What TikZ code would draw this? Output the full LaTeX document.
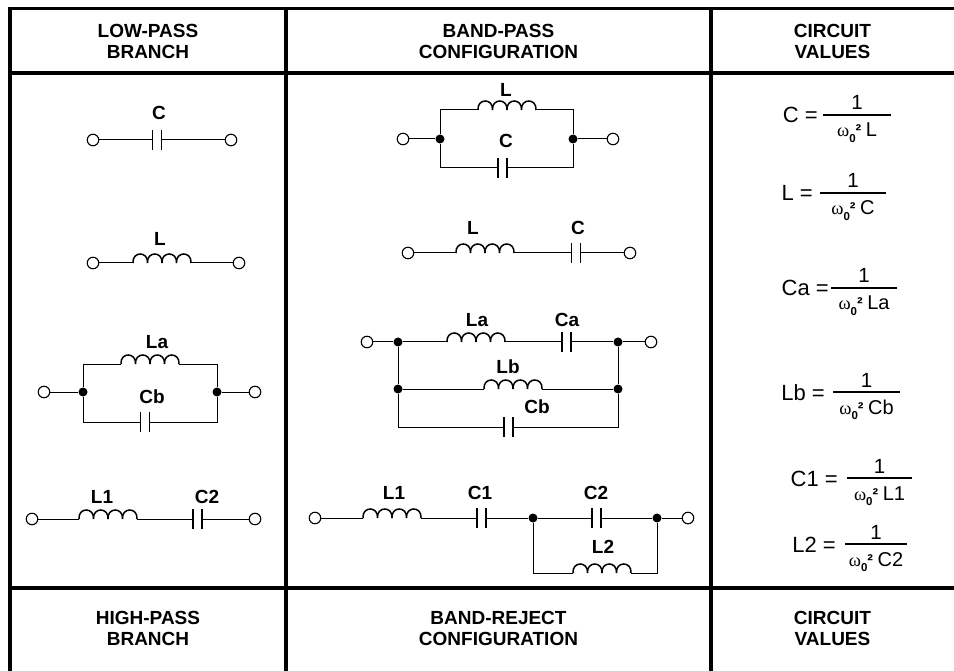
\documentclass[tikz,border=0pt]{standalone}
\usepackage{fontspec}
\setmainfont{Liberation Sans}
\newfontfamily\omegafont{Liberation Serif}
\newcommand\omz{{\omegafont\fontsize{18.5}{18}\selectfont ω}\raisebox{-5.5pt}{\fontsize{11.5}{10}\selectfont\bfseries 0}{\fontsize{17}{16}\selectfont\bfseries ²}\hspace{4.5pt}}
\begin{document}
\begin{tikzpicture}[x=1pt,y=-1pt,
  grid/.style={line width=3.4pt},
  wire/.style={line width=1pt},
  coilline/.style={line width=1.5pt},
  plate/.style={line width=1.5pt},
  term/.style={circle,draw,line width=1.1pt,fill=white,inner sep=0pt,minimum size=11.5pt},
  jdot/.style={circle,fill,inner sep=0pt,minimum size=9pt},
  lbl/.style={font=\fontsize{19}{21}\selectfont\bfseries,inner sep=0pt},
  head/.style={font=\fontsize{19}{21}\selectfont\bfseries,align=center,inner sep=0pt},
  lhs/.style={font=\fontsize{22}{22}\selectfont,anchor=base east,inner sep=0pt},
  num/.style={font=\fontsize{20.5}{20}\selectfont,anchor=base,inner sep=0pt},
  den/.style={font=\fontsize{20}{20}\selectfont,anchor=base,inner sep=0pt},
  fbar/.style={line width=2.7pt},
  pics/coil/.style={code={
    \coordinate (-a) at (0,0); \coordinate (-b) at (58,0);
    \draw[coilline] (0,0) .. controls (-1,-12) and (15.5,-12) .. (14.5,0)
       .. controls (13.5,-12) and (30,-12) .. (29,0)
       .. controls (28,-12) and (44.5,-12) .. (43.5,0)
       .. controls (42.5,-12) and (59,-12) .. (58,0);}},
  pics/cap/.style={code={
    \coordinate (-a) at (-4.5,0); \coordinate (-b) at (4.5,0);
    \draw[plate] (-4.5,-10) -- (-4.5,10) (4.5,-10) -- (4.5,10);}}
]
\useasboundingbox (0,0) rectangle (954,671);
% table
\draw[grid] (954,8.5) -- (10,8.5) -- (10,671);
\draw[grid] (10,73) -- (954,73);
\draw[grid] (10,588) -- (954,588);
\draw[grid] (286,8.5) -- (286,671);
\draw[grid] (711,8.5) -- (711,671);
% headers
\node[head] (h1) at (148,41) {LOW-PASS\\BRANCH};
\node[head] (h2) at (498.5,41) {BAND-PASS\\CONFIGURATION};
\node[head] (h3) at (832.5,41) {CIRCUIT\\VALUES};
\node[head] (f1) at (148,628) {HIGH-PASS\\BRANCH};
\node[head] (f2) at (498.5,628) {BAND-REJECT\\CONFIGURATION};
\node[head] (f3) at (832.5,628) {CIRCUIT\\VALUES};

% ---- column 1, row 1: C
\node[term] (a1l) at (93,140) {};
\node[term] (a1r) at (231,140) {};
\pic (a1C) at (157,140) {cap};
\draw[wire] (a1l) -- (a1C-a) (a1C-b) -- (a1r);
\node[lbl] (a1Ct) at (159,113) {C};

% ---- column 1, row 2: L
\node[term] (a2l) at (93,263) {};
\node[term] (a2r) at (239,263) {};
\pic (a2L) at (133,263) {coil};
\draw[wire] (a2l) -- (a2L-a) (a2L-b) -- (a2r);
\node[lbl] (a2Lt) at (160,239) {L};

% ---- column 1, row 3: La || Cb
\node[term] (a3l) at (44,392) {};
\node[term] (a3r) at (255,392) {};
\node[jdot] (a3j1) at (83,392) {};
\node[jdot] (a3j2) at (217,392) {};
\pic (a3L) at (121,364) {coil};
\pic (a3C) at (145,422) {cap};
\draw[wire] (a3l) -- (a3j1) (a3j2) -- (a3r)
  (a3j1) |- (a3L-a) (a3L-b) -| (a3j2)
  (a3j1) |- (a3C-a) (a3C-b) -| (a3j2);
\node[lbl] (a3Lt) at (157,342) {La};
\node[lbl] (a3Ct) at (152,397) {Cb};

% ---- column 1, row 4: L1 - C2
\node[term] (a4l) at (32,519) {};
\node[term] (a4r) at (255,519) {};
\pic (a4L) at (79,519) {coil};
\pic (a4C) at (197.5,519) {cap};
\draw[wire] (a4l) -- (a4L-a) (a4L-b) -- (a4C-a) (a4C-b) -- (a4r);
\node[lbl] (a4Lt) at (102,497) {L1};
\node[lbl] (a4Ct) at (207,497) {C2};

% ---- column 2, row 1: L || C
\node[term] (b1l) at (403,139) {};
\node[term] (b1r) at (613,139) {};
\node[jdot] (b1j1) at (440,139) {};
\node[jdot] (b1j2) at (573,139) {};
\pic (b1L) at (478,110) {coil};
\pic (b1C) at (502.5,168) {cap};
\draw[wire] (b1l) -- (b1j1) (b1j2) -- (b1r)
  (b1j1) |- (b1L-a) (b1L-b) -| (b1j2)
  (b1j1) |- (b1C-a) (b1C-b) -| (b1j2);
\node[lbl] (b1Lt) at (506,90) {L};
\node[lbl] (b1Ct) at (506,141) {C};

% ---- column 2, row 2: L - C
\node[term] (b2l) at (408,253) {};
\node[term] (b2r) at (630,253) {};
\pic (b2L) at (456,253) {coil};
\pic (b2C) at (576,253) {cap};
\draw[wire] (b2l) -- (b2L-a) (b2L-b) -- (b2C-a) (b2C-b) -- (b2r);
\node[lbl] (b2Lt) at (473,228) {L};
\node[lbl] (b2Ct) at (578,228) {C};

% ---- column 2, row 3: (La - Ca) || Lb || Cb
\node[term] (b3l) at (367,342) {};
\node[term] (b3r) at (651,342) {};
\node[jdot] (b3j1) at (398,342) {};
\node[jdot] (b3j2) at (618,342) {};
\node[jdot] (b3j3) at (398,389) {};
\node[jdot] (b3j4) at (618,389) {};
\pic (b3La) at (447,342) {coil};
\pic (b3Ca) at (566.5,342) {cap};
\pic (b3Lb) at (484,389) {coil};
\pic (b3Cb) at (508.5,427) {cap};
\draw[wire] (b3l) -- (b3j1) (b3j2) -- (b3r)
  (b3j1) -- (b3La-a) (b3La-b) -- (b3Ca-a) (b3Ca-b) -- (b3j2)
  (b3j1) -- (b3j3) (b3j2) -- (b3j4)
  (b3j3) -- (b3Lb-a) (b3Lb-b) -- (b3j4)
  (b3j3) |- (b3Cb-a) (b3Cb-b) -| (b3j4);
\node[lbl] (b3Lat) at (477,320) {La};
\node[lbl] (b3Cat) at (567,320) {Ca};
\node[lbl] (b3Lbt) at (508,367) {Lb};
\node[lbl] (b3Cbt) at (537,407) {Cb};

% ---- column 2, row 4: L1 - C1 - (C2 || L2)
\node[term] (b4l) at (315,518) {};
\node[term] (b4r) at (688,518) {};
\node[jdot] (b4j1) at (533,518) {};
\node[jdot] (b4j2) at (657,518) {};
\pic (b4L1) at (363,518) {coil};
\pic (b4C1) at (481.5,518) {cap};
\pic (b4C2) at (596.5,518) {cap};
\pic (b4L2) at (573,573) {coil};
\draw[wire] (b4l) -- (b4L1-a) (b4L1-b) -- (b4C1-a) (b4C1-b) -- (b4j1)
  (b4j1) -- (b4C2-a) (b4C2-b) -- (b4j2) (b4j2) -- (b4r)
  (b4j1) |- (b4L2-a) (b4L2-b) -| (b4j2);
\node[lbl] (b4L1t) at (394,493) {L1};
\node[lbl] (b4C1t) at (480,493) {C1};
\node[lbl] (b4C2t) at (596,493) {C2};
\node[lbl] (b4L2t) at (603,547) {L2};

% ---- column 3: circuit values
\coordinate (v1a) at (823,115); \coordinate (v1b) at (891,115);
\draw[fbar] (v1a) -- (v1b);
\node[lhs] (v1l) at (818,123) {C =};
\node[num] (v1n) at (857,110) {1};
\node[den] (v1d) at (857,137) {\omz L};

\coordinate (v2a) at (820,193); \coordinate (v2b) at (886,193);
\draw[fbar] (v2a) -- (v2b);
\node[lhs] (v2l) at (813,201) {L =};
\node[num] (v2n) at (853,188) {1};
\node[den] (v2d) at (853,215) {\omz C};

\coordinate (v3a) at (831,288); \coordinate (v3b) at (897,288);
\draw[fbar] (v3a) -- (v3b);
\node[lhs] (v3l) at (829,296) {Ca =};
\node[num] (v3n) at (864,283) {1};
\node[den] (v3d) at (864,310) {\omz La};

\coordinate (v4a) at (833,392); \coordinate (v4b) at (900,392);
\draw[fbar] (v4a) -- (v4b);
\node[lhs] (v4l) at (825,400) {Lb =};
\node[num] (v4n) at (866.5,387) {1};
\node[den] (v4d) at (866.5,414) {\omz Cb};

\coordinate (v5a) at (847,478); \coordinate (v5b) at (912,478);
\draw[fbar] (v5a) -- (v5b);
\node[lhs] (v5l) at (838,486) {C1 =};
\node[num] (v5n) at (879.5,473) {1};
\node[den] (v5d) at (879.5,500) {\omz L1};

\coordinate (v6a) at (845,544); \coordinate (v6b) at (907,544);
\draw[fbar] (v6a) -- (v6b);
\node[lhs] (v6l) at (836,552) {L2 =};
\node[num] (v6n) at (876,539) {1};
\node[den] (v6d) at (876,566) {\omz C2};
\end{tikzpicture}
\end{document}
